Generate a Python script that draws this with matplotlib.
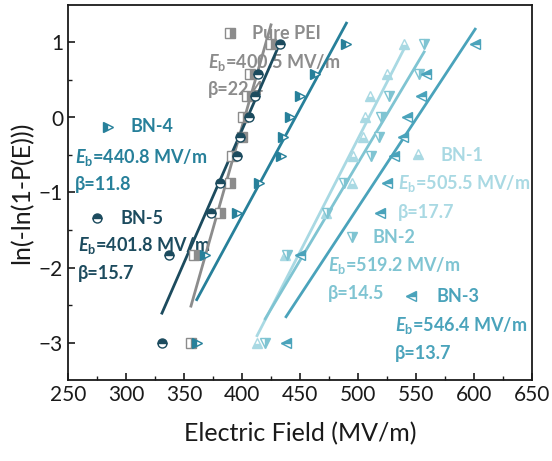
import numpy as np
import matplotlib
matplotlib.use("Agg")
import matplotlib.pyplot as plt
from matplotlib.lines import Line2D

plt.rcParams['font.family'] = ['Lato', 'DejaVu Sans']
plt.rcParams['mathtext.fontset'] = 'custom'
plt.rcParams['mathtext.rm'] = 'Lato:bold'
plt.rcParams['mathtext.it'] = 'Lato:bold:italic'
plt.rcParams['mathtext.bf'] = 'Lato:bold'

# Weibull plot levels ln(-ln(1-P))
y_levels = [-3.0, -1.83, -1.27, -0.87, -0.52, -0.26, 0.0, 0.28, 0.58, 0.98]

pure_pei = [356, 359, 381, 390, 391, 400, 401, 404, 407, 425]
bn1 = [413, 437, 472, 495, 496, 504, 506, 510, 525, 540]
bn2 = [420, 439, 473, 488, 511, 518, 520, 527, 553, 557]
bn3 = [438, 450, 519, 525, 531, 539, 542, 554, 559, 601]
bn4 = [361, 368, 396, 415, 434, 435, 441, 450, 463, 490]
bn5 = [331, 337, 373, 381, 396, 398, 406, 411, 414, 433]

names = ['Pure PEI', 'BN-1', 'BN-2', 'BN-3', 'BN-4', 'BN-5']
eb_vals = ['400.5', '505.5', '519.2', '546.4', '440.8', '401.8']
beta_vals = ['22.4', '17.7', '14.5', '13.7', '11.8', '15.7']

series = [pure_pei, bn1, bn2, bn3, bn4, bn5]
colors = ['#8c8c8c', '#a9d9e3', '#7fc4d2', '#4aa3bb', '#27809a', '#1c4b5e']
markers = ['s', '^', 'v', '<', '>', 'o']
fills = ['right', 'bottom', 'right', 'top', 'left', 'top']

W, H = 552, 461
fig = plt.figure(figsize=(W / 100, H / 100), dpi=100)
ax = fig.add_axes([68 / W, 1 - 380 / H, (532 - 68) / W, (380 - 5) / H])

for xs, c, m, fs in zip(series, colors, markers, fills):
    xs = np.array(xs, float)
    ys = np.array(y_levels, float)
    k, b = np.polyfit(xs, ys, 1)
    xl = np.array([xs.min(), xs.max()])
    ax.plot(xl, k * xl + b, color=c, lw=2, zorder=3)
    ax.plot(xs, ys, ls='none', marker=m, ms=6.5, color=c, fillstyle=fs,
            markerfacecoloralt='white', markeredgecolor=c, mew=1.0, zorder=4)

ax.set_xlim(250, 650)
ax.set_ylim(-3.5, 1.5)
ax.set_xticks(np.arange(250, 651, 50))
ax.set_xticks(np.arange(275, 650, 50), minor=True)
ax.set_yticks([-3, -2, -1, 0, 1])
ax.set_yticks([-2.5, -1.5, -0.5, 0.5], minor=True)
ax.tick_params(which='both', direction='in', labelsize=15, colors='#1a1a1a')
ax.tick_params(which='major', length=5, width=1.2)
ax.tick_params(which='minor', length=3, width=1.0)
for s in ax.spines.values():
    s.set_linewidth(1.3)
    s.set_color('#1a1a1a')
ax.set_xlabel('Electric Field (MV/m)', fontsize=18, labelpad=12, color='#1a1a1a')
ax.set_ylabel('ln(-ln(1-P(E)))', fontsize=18, labelpad=4, color='#1a1a1a')

# annotations (legend-like), positions in figure pixels
label_layout = [
    ((230, 33), (252, 33), (208, 62), (208, 90)),
    ((418, 154), (440, 155), (398, 183), (398, 212)),
    ((352, 237), (372, 237), (328, 265), (328, 293)),
    ((411, 296), (437, 296), (395, 325), (395, 353)),
    ((108, 127), (130, 127), (75, 157), (75, 184)),
    ((97, 218), (120, 218), (78, 245), (78, 273)),
]
fsz = 13
tf = fig.transFigure
for i, (mp, npos, epos, bpos) in enumerate(label_layout):
    c = colors[i]
    ax.add_line(Line2D([mp[0] / W], [1 - mp[1] / H], transform=tf,
                       marker=markers[i], ms=6.5, color=c, fillstyle=fills[i],
                       markerfacecoloralt='white', markeredgecolor=c, mew=1.0,
                       ls='none', zorder=2))
    ax.text(npos[0] / W, 1 - npos[1] / H, names[i], color=c, fontsize=fsz,
            fontweight='bold', va='center', ha='left', transform=tf, zorder=1)
    ax.text(epos[0] / W, 1 - epos[1] / H, r'$E_\mathrm{b}$=' + eb_vals[i] + ' MV/m',
            color=c, fontsize=fsz, fontweight='bold', va='center', ha='left',
            transform=tf, zorder=1)
    ax.text(bpos[0] / W, 1 - bpos[1] / H, '\u03b2=' + beta_vals[i], color=c,
            fontsize=fsz, fontweight='bold', va='center', ha='left',
            transform=tf, zorder=1)

fig.savefig('out.png', dpi=100)
